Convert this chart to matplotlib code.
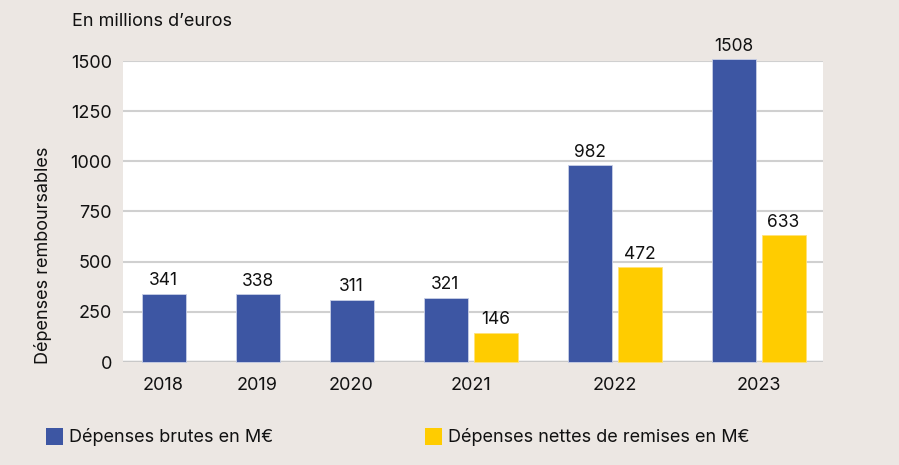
import matplotlib
matplotlib.use("Agg")
import matplotlib.pyplot as plt
from matplotlib.patches import Rectangle

plt.rcParams['font.family'] = ['Inter', 'DejaVu Sans']

years = ["2018", "2019", "2020", "2021", "2022", "2023"]
brutes = [341, 338, 311, 321, 982, 1508]
nettes = [None, None, None, 146, 472, 633]
yticks = [0, 250, 500, 750, 1000, 1250, 1500]
label_brutes = "Dépenses brutes en M€"
label_nettes = "Dépenses nettes de remises en M€"

BLUE = "#3d56a3"
YELLOW = "#ffcc00"
BG = "#ece7e3"
FS = 13

W, H = 899, 465
fig = plt.figure(figsize=(W / 100, H / 100), dpi=100, facecolor=BG)
ax = fig.add_axes([123 / W, (H - 362) / H, 700 / W, 301 / H])
ax.set_facecolor("white")

# layout of bars: sequential placement
bw = 44
inner = 50
group_pitch = 94
cursor = 18.5
xb, xn, centers = [], [], []
for b, n in zip(brutes, nettes):
    xb.append(cursor + bw / 2)
    if n is not None:
        xn.append(cursor + inner + bw / 2)
        centers.append(cursor + (inner + bw) / 2)
        cursor += inner + group_pitch
    else:
        xn.append(None)
        centers.append(cursor + bw / 2)
        cursor += group_pitch

for x, v in zip(xb, brutes):
    ax.bar(x, v, width=bw, color=BLUE, zorder=3, clip_on=False,
           edgecolor="#c9d0e6", linewidth=0.6)
    ax.text(x, v + 22, str(v), ha="center", va="bottom", fontsize=12.5,
            color="#111111", zorder=4, clip_on=False)
for x, v in zip(xn, nettes):
    if v is None:
        continue
    ax.bar(x, v, width=bw, color=YELLOW, zorder=3, clip_on=False,
           edgecolor="#ffe27a", linewidth=0.6)
    ax.text(x, v + 22, str(v), ha="center", va="bottom", fontsize=12.5,
            color="#111111", zorder=4, clip_on=False)

ax.set_xlim(0, 700)
ax.set_ylim(0, 1500)
ax.set_yticks(yticks)
ax.set_yticklabels([str(t) for t in yticks], fontsize=FS, color="#111111")
ax.set_xticks(centers)
ax.set_xticklabels(years, fontsize=FS, color="#111111")
ax.tick_params(axis="both", length=0)
ax.tick_params(axis="y", pad=8)
ax.tick_params(axis="x", pad=11)
for s in ax.spines.values():
    s.set_visible(False)
ax.grid(axis="y", color="#d0d0d0", linewidth=1.5, zorder=1)
ax.axhline(0, color="#c8c8c8", linewidth=2.5, zorder=2)

fig.text(43 / W, 1 - 255 / H, "Dépenses remboursables", rotation=90,
         ha="center", va="center", fontsize=FS, color="#111111")
fig.text(72 / W, 1 - 22 / H, "En millions d\u2019euros", ha="left", va="center",
         fontsize=FS, color="#111111")

# legend
for x0, col, txt in [(46, BLUE, label_brutes), (425, YELLOW, label_nettes)]:
    fig.patches.append(Rectangle((x0 / W, 1 - 445 / H), 17 / W, 17 / H,
                                 transform=fig.transFigure, facecolor=col,
                                 edgecolor="none"))
    fig.text((x0 + 23) / W, 1 - 437 / H, txt, ha="left", va="center",
             fontsize=FS, color="#111111")

fig.savefig("out.png", dpi=100, facecolor=BG)
